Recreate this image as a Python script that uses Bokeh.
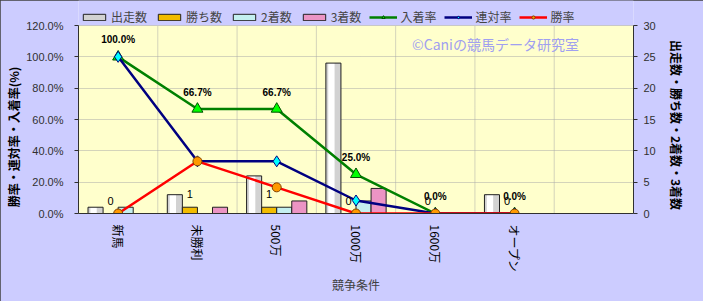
import math
from bokeh.plotting import figure
from bokeh.models import (Range1d, LinearAxis, FixedTicker, PrintfTickFormatter,
                          Legend, LegendItem, ColumnDataSource, Label, BoxAnnotation)
from bokeh.transform import dodge
from bokeh.core.properties import value
from bokeh.embed import file_html
from bokeh.resources import INLINE

# ---- data ----
categories = ["新馬", "未勝利", "500万", "1000万", "1600万", "オープン"]
runs = [1, 3, 6, 24, 0, 3]          # 出走数
wins = [0, 1, 1, 0, 0, 0]           # 勝ち数
seconds = [1, 0, 1, 2, 0, 0]        # 2着数
thirds = [0, 1, 2, 4, 0, 0]         # 3着数
place_rate = [100.0, 66.7, 66.7, 25.0, 0.0, 0.0]   # 入着率
rentai_rate = [100.0, 33.3, 33.3, 8.3, 0.0, 0.0]   # 連対率
win_rate = [0.0, 33.3, 16.7, 0.0, 0.0, 0.0]        # 勝率
left_ticks = [0, 20, 40, 60, 80, 100, 120]
right_ticks = [0, 5, 10, 15, 20, 25, 30]
n_slots = 7

JP = "Noto Sans CJK JP"
NUM = "Liberation Sans"

# layout: frame spans the full top so the legend (drawn inside the frame) is visible;
# the plotting area (0..120 %) occupies the lower 188 px of the 213 px frame.
FRAME_H = 213.0
AREA_H = 188.0
left_max = left_ticks[-1]
right_max = right_ticks[-1]

xs = list(range(len(categories)))
src = ColumnDataSource(dict(
    x=xs, runs=runs, wins=wins, seconds=seconds, thirds=thirds,
    place=place_rate, rentai=rentai_rate, win=win_rate,
    place_lbl=["%.1f%%" % v for v in place_rate],
    wins_lbl=[str(v) for v in wins],
))

p = figure(width=703, height=301, output_backend="svg", toolbar_location=None,
           x_range=Range1d(-0.5, n_slots - 0.5),
           y_range=Range1d(0, left_max * FRAME_H / AREA_H),
           min_border_left=78, min_border_right=70, min_border_top=0, min_border_bottom=88,
           background_fill_color="#CCCCFF", border_fill_color="#CCCCFF",
           outline_line_color=None)
p.styles = {"outline": "1px solid #404040", "outline-offset": "-1px"}
p.extra_y_ranges = {"cnt": Range1d(0, right_max * FRAME_H / AREA_H)}

# plotting-area background
p.add_layout(BoxAnnotation(bottom=0, top=left_max, fill_color="#FFFFCC", fill_alpha=1,
                           line_color=None, level="image"))

# grids
p.xgrid.visible = False
bounds = [i + 0.5 for i in range(n_slots - 1)]
p.segment(x0=bounds, y0=[0] * len(bounds), x1=bounds, y1=[left_max] * len(bounds),
          line_color="#A8A8A8", line_dash="1 1", line_width=1, level="underlay")
p.ygrid.grid_line_color = "#A8A8A8"
p.ygrid.grid_line_dash = "1 1"
p.ygrid.grid_line_width = 1

# x axis
xa = p.xaxis[0]
xa.ticker = FixedTicker(ticks=xs)
xa.major_label_overrides = {i: c for i, c in zip(xs, categories)}
xa.major_label_orientation = -math.pi / 2
xa.major_label_text_font = JP
xa.major_label_text_font_size = "12px"
xa.major_label_text_color = "#000000"
xa.major_tick_line_color = None
xa.minor_tick_line_color = None
xa.axis_line_color = "#303030"
xa.axis_label = "競争条件"
xa.axis_label_text_font = JP
xa.axis_label_text_font_size = "12px"
xa.axis_label_text_font_style = "normal"
xa.axis_label_text_color = "#404040"
xa.axis_label_standoff = 0

# left axis
ya = p.yaxis[0]
ya.ticker = FixedTicker(ticks=left_ticks)
ya.bounds = (0, left_max)
ya.formatter = PrintfTickFormatter(format="%.1f%%")
ya.major_label_text_font = NUM
ya.major_label_text_font_size = "11px"
ya.major_label_text_color = "#303030"
ya.major_label_standoff = 11
ya.major_tick_in = 0
ya.major_tick_out = 4
ya.minor_tick_line_color = None
ya.axis_line_color = "#303030"
ya.major_tick_line_color = "#303030"
ya.axis_label = "勝率・連対率・入着率(%)" + "\u3000" * 5
ya.axis_label_text_font = JP
ya.axis_label_text_font_size = "12px"
ya.axis_label_text_font_style = "bold"
ya.axis_label_text_color = "#000000"
ya.axis_label_standoff = 1

# right axis
ra = LinearAxis(y_range_name="cnt", ticker=FixedTicker(ticks=right_ticks))
ra.bounds = (0, right_max)
ra.major_label_text_font = NUM
ra.major_label_text_font_size = "11px"
ra.major_label_text_color = "#303030"
ra.major_label_standoff = 6
ra.major_tick_in = 0
ra.major_tick_out = 4
ra.minor_tick_line_color = None
ra.axis_line_color = "#303030"
ra.major_tick_line_color = "#303030"
ra.axis_label = "\u3000" * 3 + "出走数・勝ち数・2着数・3着数"
ra.axis_label_text_font = JP
ra.axis_label_text_font_size = "12px"
ra.axis_label_text_font_style = "bold"
ra.axis_label_text_color = "#000000"
ra.axis_label_standoff = 9
p.add_layout(ra, "right")

# bars
bw = 0.19
b1 = p.vbar(x=dodge("x", -0.285), top="runs", width=bw, source=src, y_range_name="cnt",
            fill_color="#D2D2D2", line_color=None)
p.vbar(x=dodge("x", -0.31), top="runs", width=0.08, source=src, y_range_name="cnt",
       fill_color="#FFFFFF", line_color=None)
b1o = p.vbar(x=dodge("x", -0.285), top="runs", width=bw, source=src, y_range_name="cnt",
             fill_color=None, line_color="#202020", line_width=1)
b2 = p.vbar(x=dodge("x", -0.095), top="wins", width=bw, source=src, y_range_name="cnt",
            fill_color="#F2BC00", line_color="#202020", line_width=1)
b3 = p.vbar(x=dodge("x", 0.095), top="seconds", width=bw, source=src, y_range_name="cnt",
            fill_color="#C4F0F0", line_color="#202020", line_width=1)
b4 = p.vbar(x=dodge("x", 0.285), top="thirds", width=bw, source=src, y_range_name="cnt",
            fill_color="#EC94C4", line_color="#202020", line_width=1)

# lines
l1 = p.line(x="x", y="place", source=src, line_color="#008000", line_width=2.5)
m1 = p.scatter(x="x", y="place", source=src, marker="triangle", size=11,
               fill_color="#00FF00", line_color="#005000", line_width=1)
l2 = p.line(x="x", y="rentai", source=src, line_color="#000080", line_width=2.5)
m2 = p.scatter(x="x", y="rentai", source=src, marker="diamond", size=11,
               fill_color="#00FFFF", line_color="#000080", line_width=1)
l3 = p.line(x="x", y="win", source=src, line_color="#FF0000", line_width=2.5)
m3 = p.scatter(x="x", y="win", source=src, marker="circle", size=9,
               fill_color="#FF9900", line_color="#804000", line_width=1)

# data labels
p.text(x="x", y="place", text="place_lbl", source=src, y_offset=-17,
       text_font=value(NUM), text_font_size="10px", text_font_style="bold",
       text_color="#000000", text_align="center", text_baseline="middle")
p.text(x=dodge("x", -0.095), y="wins", text="wins_lbl", source=src, y_offset=-13,
       y_range_name="cnt", text_font=value(NUM), text_font_size="11px",
       text_color="#000000", text_align="center", text_baseline="middle")

# watermark
p.add_layout(Label(x=4.76, y=107.9, text="©Caniの競馬データ研究室", text_font=JP,
                   text_font_size="14px", text_color="#A0A0F0",
                   text_align="center", text_baseline="middle"))

# legend (inside the frame's top strip)
legend = Legend(items=[
    LegendItem(label="出走数", renderers=[b1, b1o]),
    LegendItem(label="勝ち数", renderers=[b2]),
    LegendItem(label="2着数", renderers=[b3]),
    LegendItem(label="3着数", renderers=[b4]),
    LegendItem(label="入着率", renderers=[l1, m1]),
    LegendItem(label="連対率", renderers=[l2, m2]),
    LegendItem(label="勝率", renderers=[l3, m3]),
], orientation="horizontal", location=(2, 188), glyph_width=28, glyph_height=8,
    label_text_font=JP, label_text_font_size="12px", label_standoff=3,
    spacing=8, padding=0, margin=0, background_fill_alpha=0, border_line_color=None,
    label_height=16)
p.add_layout(legend, "center")

open("out.html", "w").write(file_html(p, INLINE))
